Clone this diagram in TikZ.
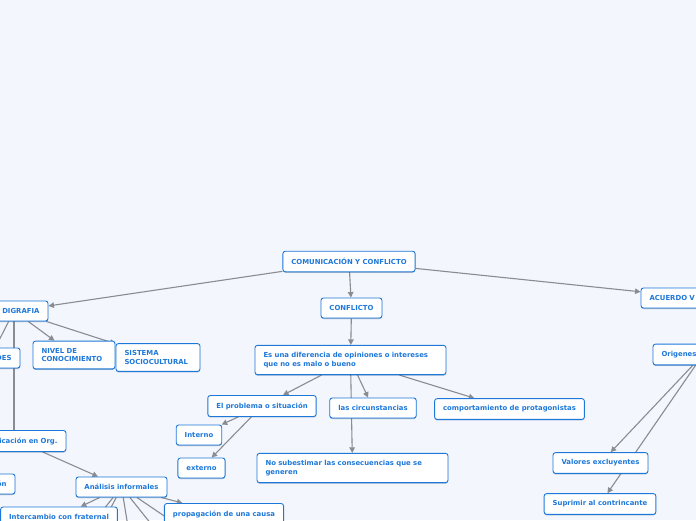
\documentclass[tikz,border=0pt]{standalone}
\usepackage{fontspec}
\setmainfont{DejaVu Sans}
\usepackage{xcolor}
\usetikzlibrary{
	arrows.meta,
	calc,
	positioning,
	shadows
}
\definecolor{mapbg}{HTML}{F3F6FD}
\definecolor{mapblue}{HTML}{1E78DA}
\definecolor{mapline}{HTML}{8A8C90}
\pgfdeclarelayer{bg}
\pgfdeclarelayer{links}
\pgfsetlayers{bg,links,main}
\tikzset{
	topic/.style={draw=mapblue, line width=0.9pt, fill=white, rounded corners=2.5pt,
		text=mapblue, font=\bfseries\fontsize{6.9}{8.6}\selectfont,
		minimum height=20pt, inner xsep=8.5pt, inner ysep=7pt,
		drop shadow={shadow xshift=0pt, shadow yshift=-1pt, fill=mapblue!60!black, opacity=0.4}},
	link/.style={draw=mapline, line width=1.1pt, -{Triangle[length=5.5pt, width=5.5pt]}},
	plain link/.style={draw=mapline, line width=1.1pt}
}

\begin{document}
\begin{tikzpicture}[x=1pt, y=-1pt]
	\begin{pgfonlayer}{bg}
		\fill[mapbg] (0,0) rectangle (696,520);
	\end{pgfonlayer}
	\useasboundingbox (0,0) rectangle (696,520);
	\clip (0,0) rectangle (696,520);

	\node[topic] (com) at (349,261.5) {COMUNICACIÓN Y CONFLICTO};
	\node[topic] (conf) at (351.5,308) {CONFLICTO};
	\node[topic, text width=174pt, align=left] (dif) at (350.5,360) {Es una diferencia de opiniones o intereses\\que no es malo o bueno};
	\node[topic] (prob) at (262,406) {El problema o situación};
	\node[topic] (circ) at (373,408) {las circunstancias};
	\node[topic] (comp) at (509.5,409) {comportamiento de protagonistas};
	\node[topic] (int) at (199,435) {Interno};
	\node[topic] (ext) at (201.5,468) {externo};
	\node[topic, text width=174pt, align=left] (nosub) at (352.5,468) {No subestimar las consecuencias que se\\generen};

	\node[topic, text width=102pt, align=left] (acu) at (700.5,298) {ACUERDO V};
	\node[topic, text width=83pt, align=left] (orig) at (703,354.5) {Origenes};
	\node[topic] (valo) at (600.5,463) {Valores excluyentes};
	\node[topic] (supr) at (600,504) {Suprimir al contrincante};

	\node[topic, text width=51pt, align=right] (digr) at (14,311) {DIGRAFIA};
	\node[topic, text width=43pt, align=right] (des) at (-10,358) {DES};
	\node[topic, text width=65pt, align=left] (niv) at (74,355) {NIVEL DE\\CONOCIMIENTO};
	\node[topic, text width=67pt, align=left] (sis) at (158,357.5) {SISTEMA\\SOCIOCULTURAL};
	\node[topic, text width=79pt, align=right] (org) at (18,441) {icación en Org.};
	\node[topic, text width=53pt, align=right] (on) at (-20,484) {ón};
	\node[topic] (anal) at (121.5,487) {Análisis informales};
	\node[topic] (inter) at (59,517) {Intercambio con fraternal};
	\node[topic] (prop) at (224,514) {propagación de una causa};

	\coordinate (aoff1) at (75,545);
	\coordinate (aoff2) at (92,545);
	\coordinate (aoff3) at (131,545);
	\coordinate (aoff4) at (168,545);
	\coordinate (aoff5) at (207,545);

	\begin{pgfonlayer}{links}
		\draw[link] (com) -- (digr);
		\draw[link] (com) -- (conf);
		\draw[link] (com) -- (acu);
		\draw[link] (conf) -- (dif);
		\draw[link] (dif) -- (prob);
		\draw[link] (dif) -- (circ);
		\draw[link] (dif) -- (nosub);
		\draw[link] (dif) -- (comp);
		\draw[link] (prob) -- (int);
		\draw[link] (prob) -- (ext);
		\draw[link] (orig) -- (valo);
		\draw[link] (orig) -- (supr);
		\draw[link] (digr) -- (des);
		\draw[link] (digr) -- (niv);
		\draw[link] (digr) -- (sis);
		\draw[plain link] (digr.south) -- (digr.south |- org.north);
		\draw[link] (org) -- (anal);
		\draw[link] (anal) -- (inter);
		\draw[link] (anal) -- (prop);
		\foreach \k in {1,...,5}
			\draw[link] (anal) -- (aoff\k);
	\end{pgfonlayer}
\end{tikzpicture}
\end{document}
